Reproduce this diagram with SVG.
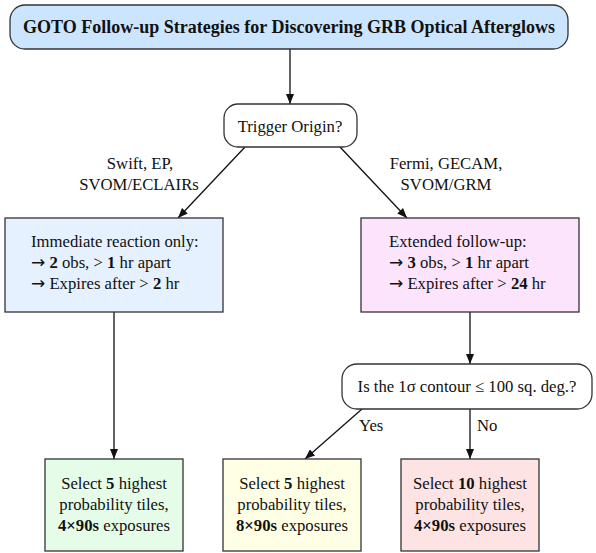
<svg xmlns="http://www.w3.org/2000/svg" width="596" height="553" viewBox="0 0 596 553">
<style>
text{font-family:"Liberation Serif","Times New Roman",serif;font-size:16.7px;fill:#111}
.c{text-anchor:middle}
.b{font-weight:bold}
.ar{font-family:"DejaVu Sans",sans-serif;font-size:17px}
.box{stroke:#333;stroke-width:1.3}
.edge{stroke:#111;stroke-width:1.3;fill:none}
</style>
<defs>
<marker id="ah" markerWidth="10" markerHeight="8" refX="10" refY="4" orient="auto" markerUnits="userSpaceOnUse">
<path d="M0,0 L10,4 L0,8 z" fill="#111"/>
</marker>
</defs>
<rect width="596" height="553" fill="#fff"/>
<g id="edges">
<line class="edge" x1="290" y1="49" x2="290" y2="104" marker-end="url(#ah)"/>
<line class="edge" x1="245" y1="147" x2="178" y2="218" marker-end="url(#ah)"/>
<line class="edge" x1="340" y1="147" x2="407" y2="218" marker-end="url(#ah)"/>
<line class="edge" x1="114" y1="312" x2="114" y2="459" marker-end="url(#ah)"/>
<line class="edge" x1="470" y1="312" x2="470" y2="364" marker-end="url(#ah)"/>
<line class="edge" x1="362" y1="409" x2="305" y2="459" marker-end="url(#ah)"/>
<line class="edge" x1="470" y1="409" x2="470" y2="459" marker-end="url(#ah)"/>
<text class="c" x="140" y="169">Swift, EP,</text>
<text class="c" x="139" y="190">SVOM/ECLAIRs</text>
<text class="c" x="446" y="169">Fermi, GECAM,</text>
<text class="c" x="446" y="190">SVOM/GRM</text>
<text x="359" y="431">Yes</text>
<text x="477" y="431">No</text>
</g>
<g id="title">
<rect class="box" x="10" y="5" width="558" height="44" rx="15" fill="#cce5ff"/>
<text class="c b" x="289" y="33" style="font-size:18px">GOTO Follow-up Strategies for Discovering GRB Optical Afterglows</text>
</g>
<g id="trigger">
<rect class="box" x="224" y="104" width="133" height="43" rx="14" fill="#fff"/>
<text class="c" x="290" y="132">Trigger Origin?</text>
</g>
<g id="immediate">
<rect class="box" x="5" y="218" width="218" height="94" fill="#e5f1ff"/>
<text x="31" y="247">Immediate reaction only:</text>
<text x="31" y="268"><tspan class="ar">→</tspan> <tspan class="b">2</tspan> obs, &gt; <tspan class="b">1</tspan> hr apart</text>
<text x="31" y="289"><tspan class="ar">→</tspan> Expires after &gt; <tspan class="b">2</tspan> hr</text>
</g>
<g id="extended">
<rect class="box" x="361" y="218" width="218" height="94" fill="#fce4fc"/>
<text x="389" y="247">Extended follow-up:</text>
<text x="389" y="268"><tspan class="ar">→</tspan> <tspan class="b">3</tspan> obs, &gt; <tspan class="b">1</tspan> hr apart</text>
<text x="389" y="289"><tspan class="ar">→</tspan> Expires after &gt; <tspan class="b">24</tspan> hr</text>
</g>
<g id="decision">
<rect class="box" x="342" y="364" width="250" height="45" rx="15" fill="#fff"/>
<text class="c" x="467" y="392">Is the 1σ contour ≤ 100 sq. deg.?</text>
</g>
<g id="green">
<rect class="box" x="45" y="459" width="138" height="92" fill="#e5fce9"/>
<text class="c" x="114" y="489">Select <tspan class="b">5</tspan> highest</text>
<text class="c" x="114" y="510">probability tiles,</text>
<text class="c" x="114" y="531"><tspan class="b">4×90s</tspan> exposures</text>
</g>
<g id="yellow">
<rect class="box" x="223" y="459" width="138" height="92" fill="#ffffe6"/>
<text class="c" x="292" y="489">Select <tspan class="b">5</tspan> highest</text>
<text class="c" x="292" y="510">probability tiles,</text>
<text class="c" x="292" y="531"><tspan class="b">8×90s</tspan> exposures</text>
</g>
<g id="pink">
<rect class="box" x="401" y="459" width="138" height="92" fill="#fde3e3"/>
<text class="c" x="470" y="489">Select <tspan class="b">10</tspan> highest</text>
<text class="c" x="470" y="510">probability tiles,</text>
<text class="c" x="470" y="531"><tspan class="b">4×90s</tspan> exposures</text>
</g>
</svg>
